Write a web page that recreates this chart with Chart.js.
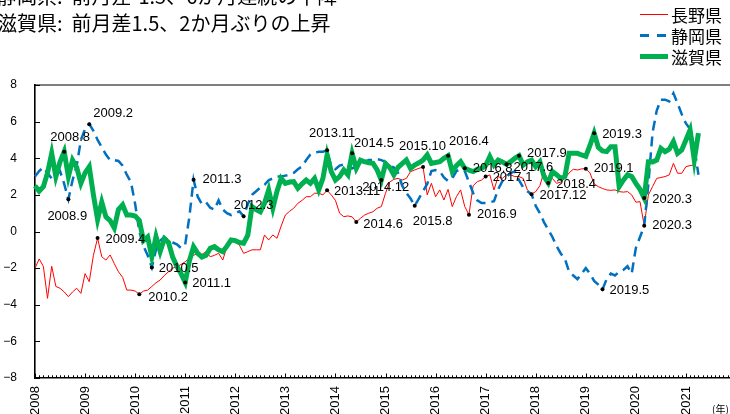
<!DOCTYPE html>
<html lang="ja">
<head>
<meta charset="utf-8">
<script src="https://cdn.jsdelivr.net/npm/chart.js@4.4.1/dist/chart.umd.min.js"></script>
<style>
  html, body { margin: 0; padding: 0; background: #fff; overflow: hidden; }
  #wrap { position: relative; width: 730px; height: 414px; overflow: hidden; }
  #chart { position: absolute; left: 0; top: 0; }
  .title { position: absolute; left: -3px; font: 20px "Noto Sans CJK JP", sans-serif; white-space: pre; line-height: 24px; color: #000; }
  #legend { position: absolute; left: 640px; top: 4px; font: 17px "Noto Sans CJK JP", sans-serif; color: #000; }
  #legend .row { display: flex; align-items: center; height: 21px; }
  #legend .swatch { width: 28px; margin-right: 3px; }
  #unit { position: absolute; left: 712px; top: 401px; font: 10px "Noto Sans CJK JP", sans-serif; }
</style>
</head>
<body>
<div id="wrap">
  <canvas id="chart" width="745" height="414"></canvas>
  <div class="title" style="top:-16px">静岡県:  前月差-1.5、6か月連続の下降</div>
  <div class="title" style="top:11px">滋賀県:  前月差1.5、2か月ぶりの上昇</div>
  <div id="legend"></div>
  <div id="unit">(年)</div>
</div>
<script>
// monthly values, 2008.1 -> 2021.4
const nagano = [
  -2.0, -1.5, -1.9, -3.65, -1.9, -3.0, -3.1, -3.3, -3.56, -3.3, -3.1, -3.38,
  -2.3, -2.74, -1.3, -0.36, -1.38, -1.56, -1.28, -1.75, -2.2, -2.5, -3.2, -3.2,
  -3.25, -3.43, -3.25, -3.2, -3.0, -2.8, -2.65, -2.4, -2.2, -2.0, -1.92, -1.8,
  -1.65, -1.45, -1.3, -1.2, -1.25, -1.1, -1.38, -1.3, -1.19, -1.56, -0.83, -0.46,
  -0.56, -0.75, -1.19, -1.1, -1.0, -1.0, -1.0, -0.19, -0.46, -0.19, -0.37, 0.3,
  0.9, 1.1, 1.27, 1.54, 1.7, 1.9, 1.9, 2.09, 2.09, 2.0, 2.25, 2.0,
  1.7, 1.0, 0.81, 0.85, 0.8, 0.52, 0.72, 0.9, 1.0, 1.08, 1.27, 1.36,
  2.09, 2.7, 2.85, 2.9, 2.81, 2.9, 3.27, 3.36, 3.45, 3.52, 2.0, 2.63,
  1.9, 2.27, 1.72, 2.3, 1.36, 1.9, 2.27, 1.36, 0.92, 2.5, 2.72, 2.81,
  3.0, 3.09, 2.27, 3.0, 2.9, 3.09, 3.09, 3.0, 3.0, 2.9, 2.27, 2.05,
  2.18, 2.5, 3.27, 2.81, 2.9, 2.63, 2.7, 2.9, 3.2, 3.4, 3.36, 3.42,
  3.43, 3.2, 2.6, 2.45, 2.35, 2.27, 2.25, 2.27, 2.18, 2.15, 2.18, 2.0,
  1.6, 1.63, 0.32, 2.0, 2.45, 2.9, 2.95, 3.0, 3.09, 3.72, 3.18, 3.18,
  3.54, 3.6, 3.63, 3.4
];
const shizuoka = [
  3.0, 3.3, 3.5, 3.2, 2.9, 3.1, 3.3, 2.6, 1.76, 2.8, 3.6, 5.0,
  5.6, 5.86, 5.5, 5.0, 4.6, 4.2, 3.9, 3.9, 3.85, 3.6, 3.1, 2.7,
  1.5, 0.0, -0.8, -1.3, -1.96, -1.0, -0.5, -0.3, -0.5, -0.6, -0.7, -0.9,
  -0.7, 0.8, 2.83, 1.9, 1.5, 1.6, 1.3, 1.2, 1.7, 1.2, 1.0, 0.9,
  1.0, 1.1, 0.83, 1.5, 2.0, 2.2, 2.4, 2.55, 2.8, 2.9, 3.0, 3.0,
  3.05, 3.1, 3.2, 3.4, 3.55, 3.9, 4.2, 4.3, 4.35, 4.36, 4.44, 3.55,
  3.4, 3.6, 3.65, 3.5, 3.45, 3.55, 3.65, 3.8, 3.9, 3.9, 3.95, 3.9,
  3.8, 3.6, 3.5, 3.2, 2.5, 2.1, 1.8, 1.41, 1.8, 2.2, 2.6, 3.3,
  3.35, 3.3, 2.95, 2.75, 2.9, 3.3, 3.4, 3.3, 2.7, 2.1, 1.7, 1.55,
  1.55, 1.6, 1.65, 2.3, 2.75, 3.0, 3.2, 3.27, 2.8, 2.4, 2.2, 2.03,
  1.4, 1.0, 0.5, 0.1, -0.3, -0.8, -1.2, -1.5, -2.2, -2.4, -2.6, -2.3,
  -2.0, -2.3, -2.7, -2.9, -3.16, -2.6, -2.3, -2.4, -2.2, -2.1, -1.9, -2.3,
  -0.9, -0.3, 0.3, 2.6, 5.4, 6.6, 7.2, 7.2, 7.1, 7.55, 7.0, 6.4,
  5.9, 5.6, 4.6, 3.1
];
const shiga = [
  2.5, 2.2, 2.45, 3.2, 4.27, 3.0, 3.8, 4.36, 3.0, 3.9, 3.5, 2.63,
  3.2, 3.54, 2.0, 0.65, 1.6, 0.8, 0.6, 0.2, 1.2, 1.45, 0.9, 0.9,
  0.85, 0.6, -0.5, -0.3, -1.38, -0.28, -1.1, -0.4, -0.6, -1.4, -1.9, -2.3,
  -2.78, -1.6, -0.83, -1.19, -1.4, -1.3, -0.92, -0.83, -1.0, -1.1, -0.8, -0.46,
  -0.5, -0.6, -0.64, -0.2, 1.36, 1.2, 1.08, 1.54, 2.27, 1.27, 2.2, 2.9,
  2.63, 2.7, 2.72, 2.36, 2.6, 2.81, 2.63, 2.9, 2.27, 2.9, 4.18, 3.27,
  2.81, 3.0, 3.36, 3.09, 4.27, 3.45, 3.9, 3.81, 3.75, 3.72, 3.36, 2.81,
  3.7, 3.5, 3.09, 3.5, 3.7, 3.9, 3.45, 3.63, 3.75, 3.9, 4.18, 3.72,
  3.77, 3.81, 4.0, 4.14, 3.27, 3.6, 3.81, 3.45, 3.35, 3.27, 3.4, 3.45,
  3.6, 4.09, 3.63, 3.9, 3.8, 3.67, 3.81, 4.0, 4.14, 3.63, 3.8, 3.9,
  3.54, 3.8, 3.0, 2.65, 3.27, 3.1, 2.9, 3.0, 4.27, 4.27, 4.27, 4.18,
  4.1, 4.7, 5.37, 4.6, 4.4, 4.36, 4.63, 4.63, 2.45, 2.8, 3.1, 3.0,
  2.63, 2.3, 1.83, 3.81, 3.8, 3.9, 4.54, 4.36, 4.5, 4.91, 4.27, 4.45,
  5.0, 5.55, 3.9, 5.37
];

const seriesNames = ['長野県', '静岡県', '滋賀県'];
const yearLabels = ['2008', '2009', '2010', '2011', '2012', '2013', '2014',
  '2015', '2016', '2017', '2018', '2019', '2020', '2021'];
const yTicks = [-8, -6, -4, -2, 0, 2, 4, 6, 8];

// labelled turning points: [series index, label]
const annoSeries = [2, 1, 1, 0, 0, 1, 2, 1, 1, 1, 0, 2, 2, 0, 0, 1, 2, 2, 0, 0,
  2, 2, 1, 2, 0, 2, 1, 2, 0];
const annoLabels = ['2008.8', '2008.9', '2009.2', '2009.4', '2010.2', '2010.5',
  '2011.1', '2011.3', '2012.3', '2013.11', '2013.11', '2014.5', '2014.12',
  '2014.6', '2015.10', '2015.8', '2016.4', '2016.8', '2016.9', '2017.1',
  '2017.6', '2017.9', '2017.12', '2018.4', '2019.1', '2019.3', '2019.5',
  '2020.3', '2020.3'];

// text offset from its dot (left edge, vertical middle)
const annoOffset = [[-14, -14], [-21, 17], [4, -11], [8, 1], [9, 3], [7, 1],
  [7, 1], [9, 0], [-10, -11], [-18, -17], [7, 1], [2, -10], [-19, 7],
  [7, 2], [-24, -21], [-2, 16], [1, -14], [8, 0], [8, 0], [7, 1],
  [7, 3], [8, -2], [8, 1], [8, 1], [8, 0], [8, 1], [7, 1], [8, 1], [8, 0]];

const monthLabels = [];
for (let y = 2008; y <= 2022; y++) {
  for (let m = 1; m <= 12; m++) {
    if (y === 2022 && m > 1) break;
    monthLabels.push(y + '.' + m);
  }
}

function monthIndex(label) {
  const parts = label.split('.');
  return (Number(parts[0]) - 2008) * 12 + Number(parts[1]) - 1;
}

const seriesValues = [nagano, shizuoka, shiga];
const seriesStyle = [
  { color: '#FF0000', width: 1, dash: [], order: 3 },
  { color: '#0070C0', width: 2.5, dash: [10, 6], order: 2 },
  { color: '#00B050', width: 5, dash: [], order: 1 },
];

const framePlugin = {
  id: 'frame',
  afterDatasetsDraw(chart) {
    const ctx = chart.ctx;
    const area = chart.chartArea;
    const xs = chart.scales.x;
    const ys = chart.scales.y;
    ctx.save();
    ctx.strokeStyle = '#000';
    // top border
    ctx.lineWidth = 1.2;
    ctx.beginPath();
    ctx.moveTo(area.left, area.top);
    ctx.lineTo(area.right, area.top);
    ctx.stroke();
    // inward month ticks
    ctx.lineWidth = 1;
    ctx.beginPath();
    for (let i = 0; i < monthLabels.length; i++) {
      const x = Math.round(xs.getPixelForValue(i)) + 0.5;
      const len = i % 12 === 0 ? 4.5 : 2.7;
      ctx.moveTo(x, area.bottom);
      ctx.lineTo(x, area.bottom - len);
    }
    yTicks.forEach((v) => {
      const y = Math.round(ys.getPixelForValue(v)) + 0.5;
      ctx.moveTo(area.left, y);
      ctx.lineTo(area.left + 5, y);
    });
    ctx.stroke();

    // labelled points
    ctx.fillStyle = '#000';
    ctx.font = '13px "Liberation Sans", Arial, sans-serif';
    ctx.textBaseline = 'middle';
    ctx.textAlign = 'left';
    annoLabels.forEach((label, k) => {
      const idx = monthIndex(label);
      const value = seriesValues[annoSeries[k]][idx];
      const px = xs.getPixelForValue(idx);
      const py = ys.getPixelForValue(value);
      ctx.beginPath();
      ctx.arc(px, py, 2, 0, Math.PI * 2);
      ctx.fill();
      ctx.fillText(label, px + annoOffset[k][0], py + annoOffset[k][1]);
    });
    ctx.restore();
  }
};

const datasets = seriesNames.map((name, i) => ({
  label: name,
  data: seriesValues[i],
  borderColor: seriesStyle[i].color,
  borderWidth: seriesStyle[i].width,
  borderDash: seriesStyle[i].dash,
  order: seriesStyle[i].order,
  pointRadius: 0,
  tension: 0,
  fill: false,
}));

const chart = new Chart(document.getElementById('chart'), {
  type: 'line',
  data: { labels: monthLabels, datasets: datasets },
  options: {
    responsive: false,
    animation: false,
    layout: { padding: { top: 85, right: 9, left: 0, bottom: 0 } },
    plugins: { legend: { display: false }, tooltip: { enabled: false } },
    scales: {
      x: {
        type: 'category',
        offset: false,
        grid: { display: false, drawTicks: false },
        border: { display: true, color: '#000', width: 1.6 },
        afterFit: (scale) => { scale.height = 36; },
        ticks: {
          autoSkip: false,
          minRotation: 90,
          maxRotation: 90,
          padding: 8,
          color: '#000',
          font: { size: 13, family: '"Liberation Sans", Arial, sans-serif' },
          callback: (val, i) => (i % 12 === 0 && yearLabels[i / 12]) ? yearLabels[i / 12] : null,
        },
      },
      y: {
        min: -8,
        max: 8,
        grid: { display: false, drawTicks: false },
        border: { display: true, color: '#000', width: 1.6 },
        afterFit: (scale) => { scale.width = 35; },
        ticks: {
          stepSize: 2,
          padding: 18,
          color: '#000',
          font: { size: 12, family: '"Liberation Sans", Arial, sans-serif' },
          callback: (v) => (v < 0 ? '\u2212' + Math.abs(v) : String(v)),
        },
      },
    },
  },
  plugins: [framePlugin],
});

// legend
const legend = document.getElementById('legend');
datasets.forEach((ds) => {
  const row = document.createElement('div');
  row.className = 'row';
  const sw = document.createElement('div');
  sw.className = 'swatch';
  sw.style.height = ds.borderWidth + 'px';
  if (ds.borderDash.length) {
    sw.style.background = 'repeating-linear-gradient(90deg, ' + ds.borderColor +
      ' 0 9px, transparent 9px 17px)';
  } else {
    sw.style.background = ds.borderColor;
  }
  const txt = document.createElement('span');
  txt.textContent = ds.label;
  row.appendChild(sw);
  row.appendChild(txt);
  legend.appendChild(row);
});
</script>
</body>
</html>
